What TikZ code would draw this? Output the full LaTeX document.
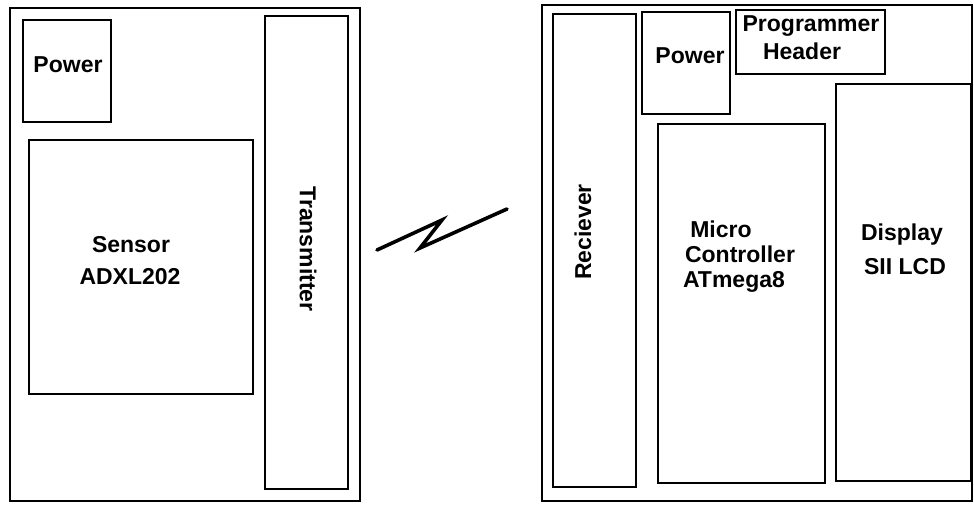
\documentclass[tikz,border=0pt]{standalone}
\usepackage{fontspec}
\setmainfont{Liberation Sans}
\usetikzlibrary{positioning}

\tikzset{
  blk/.style={draw, line width=1.6pt, anchor=north west, inner sep=0pt, outer sep=0pt},
  lbl/.style={font=\fontsize{23}{27}\selectfont\bfseries, inner sep=0pt, anchor=base},
}

\begin{document}
\begin{tikzpicture}[x=1pt, y=-1pt]
    \useasboundingbox (0,0) rectangle (974,504);

    % Sender board
    \node[blk, minimum width=350pt, minimum height=493pt] (sender) at (10,8) {};
    \node[blk, minimum width=88pt, minimum height=102pt] (spower) at (23,20) {};
    \node[blk, minimum width=224pt, minimum height=254pt] (sensor) at (29,140) {};
    \node[blk, minimum width=83pt, minimum height=473pt] (transmitter) at (265,16) {};
    \node[lbl] (spowertxt) at (68,72) {Power};
    \node[lbl] (sensortxt) at (131,252) {Sensor};
    \node[lbl] (adxltxt) at (130,284) {ADXL202};
    \node[lbl, anchor=center, rotate=-90] (transtxt) at (308,249) {Transmitter};

    % Link
    \coordinate (z1) at (377,250);
    \coordinate (z2) at (442,220);
    \coordinate (z3) at (420,248);
    \coordinate (z4) at (507,209);
    \draw[line width=3.6pt, line cap=round] (z1) -- (z2) -- (z3) -- (z4);

    % Receiver board
    \node[blk, minimum width=430pt, minimum height=496pt] (receiver) at (542,5) {};
    \node[blk, minimum width=83pt, minimum height=473pt] (reciever) at (553,14) {};
    \node[blk, minimum width=88pt, minimum height=102pt] (rpower) at (642,12) {};
    \node[blk, minimum width=149pt, minimum height=64pt] (header) at (736,10) {};
    \node[blk, minimum width=167pt, minimum height=359pt] (micro) at (658,124) {};
    \node[blk, minimum width=135pt, minimum height=397pt] (display) at (836,84) {};
    \node[lbl, anchor=center, rotate=90] (rectxt) at (583,232) {Reciever};
    \node[lbl] (rpowertxt) at (690,63) {Power};
    \node[lbl] (progtxt) at (811,31) {Programmer};
    \node[lbl] (headtxt) at (802,59) {Header};
    \node[lbl] (microtxt) at (721,237) {Micro};
    \node[lbl] (ctrltxt) at (740,262) {Controller};
    \node[lbl] (atmtxt) at (734,287) {ATmega8};
    \node[lbl] (disptxt) at (902,240) {Display};
    \node[lbl] (lcdtxt) at (905,274) {SII LCD};
\end{tikzpicture}
\end{document}
